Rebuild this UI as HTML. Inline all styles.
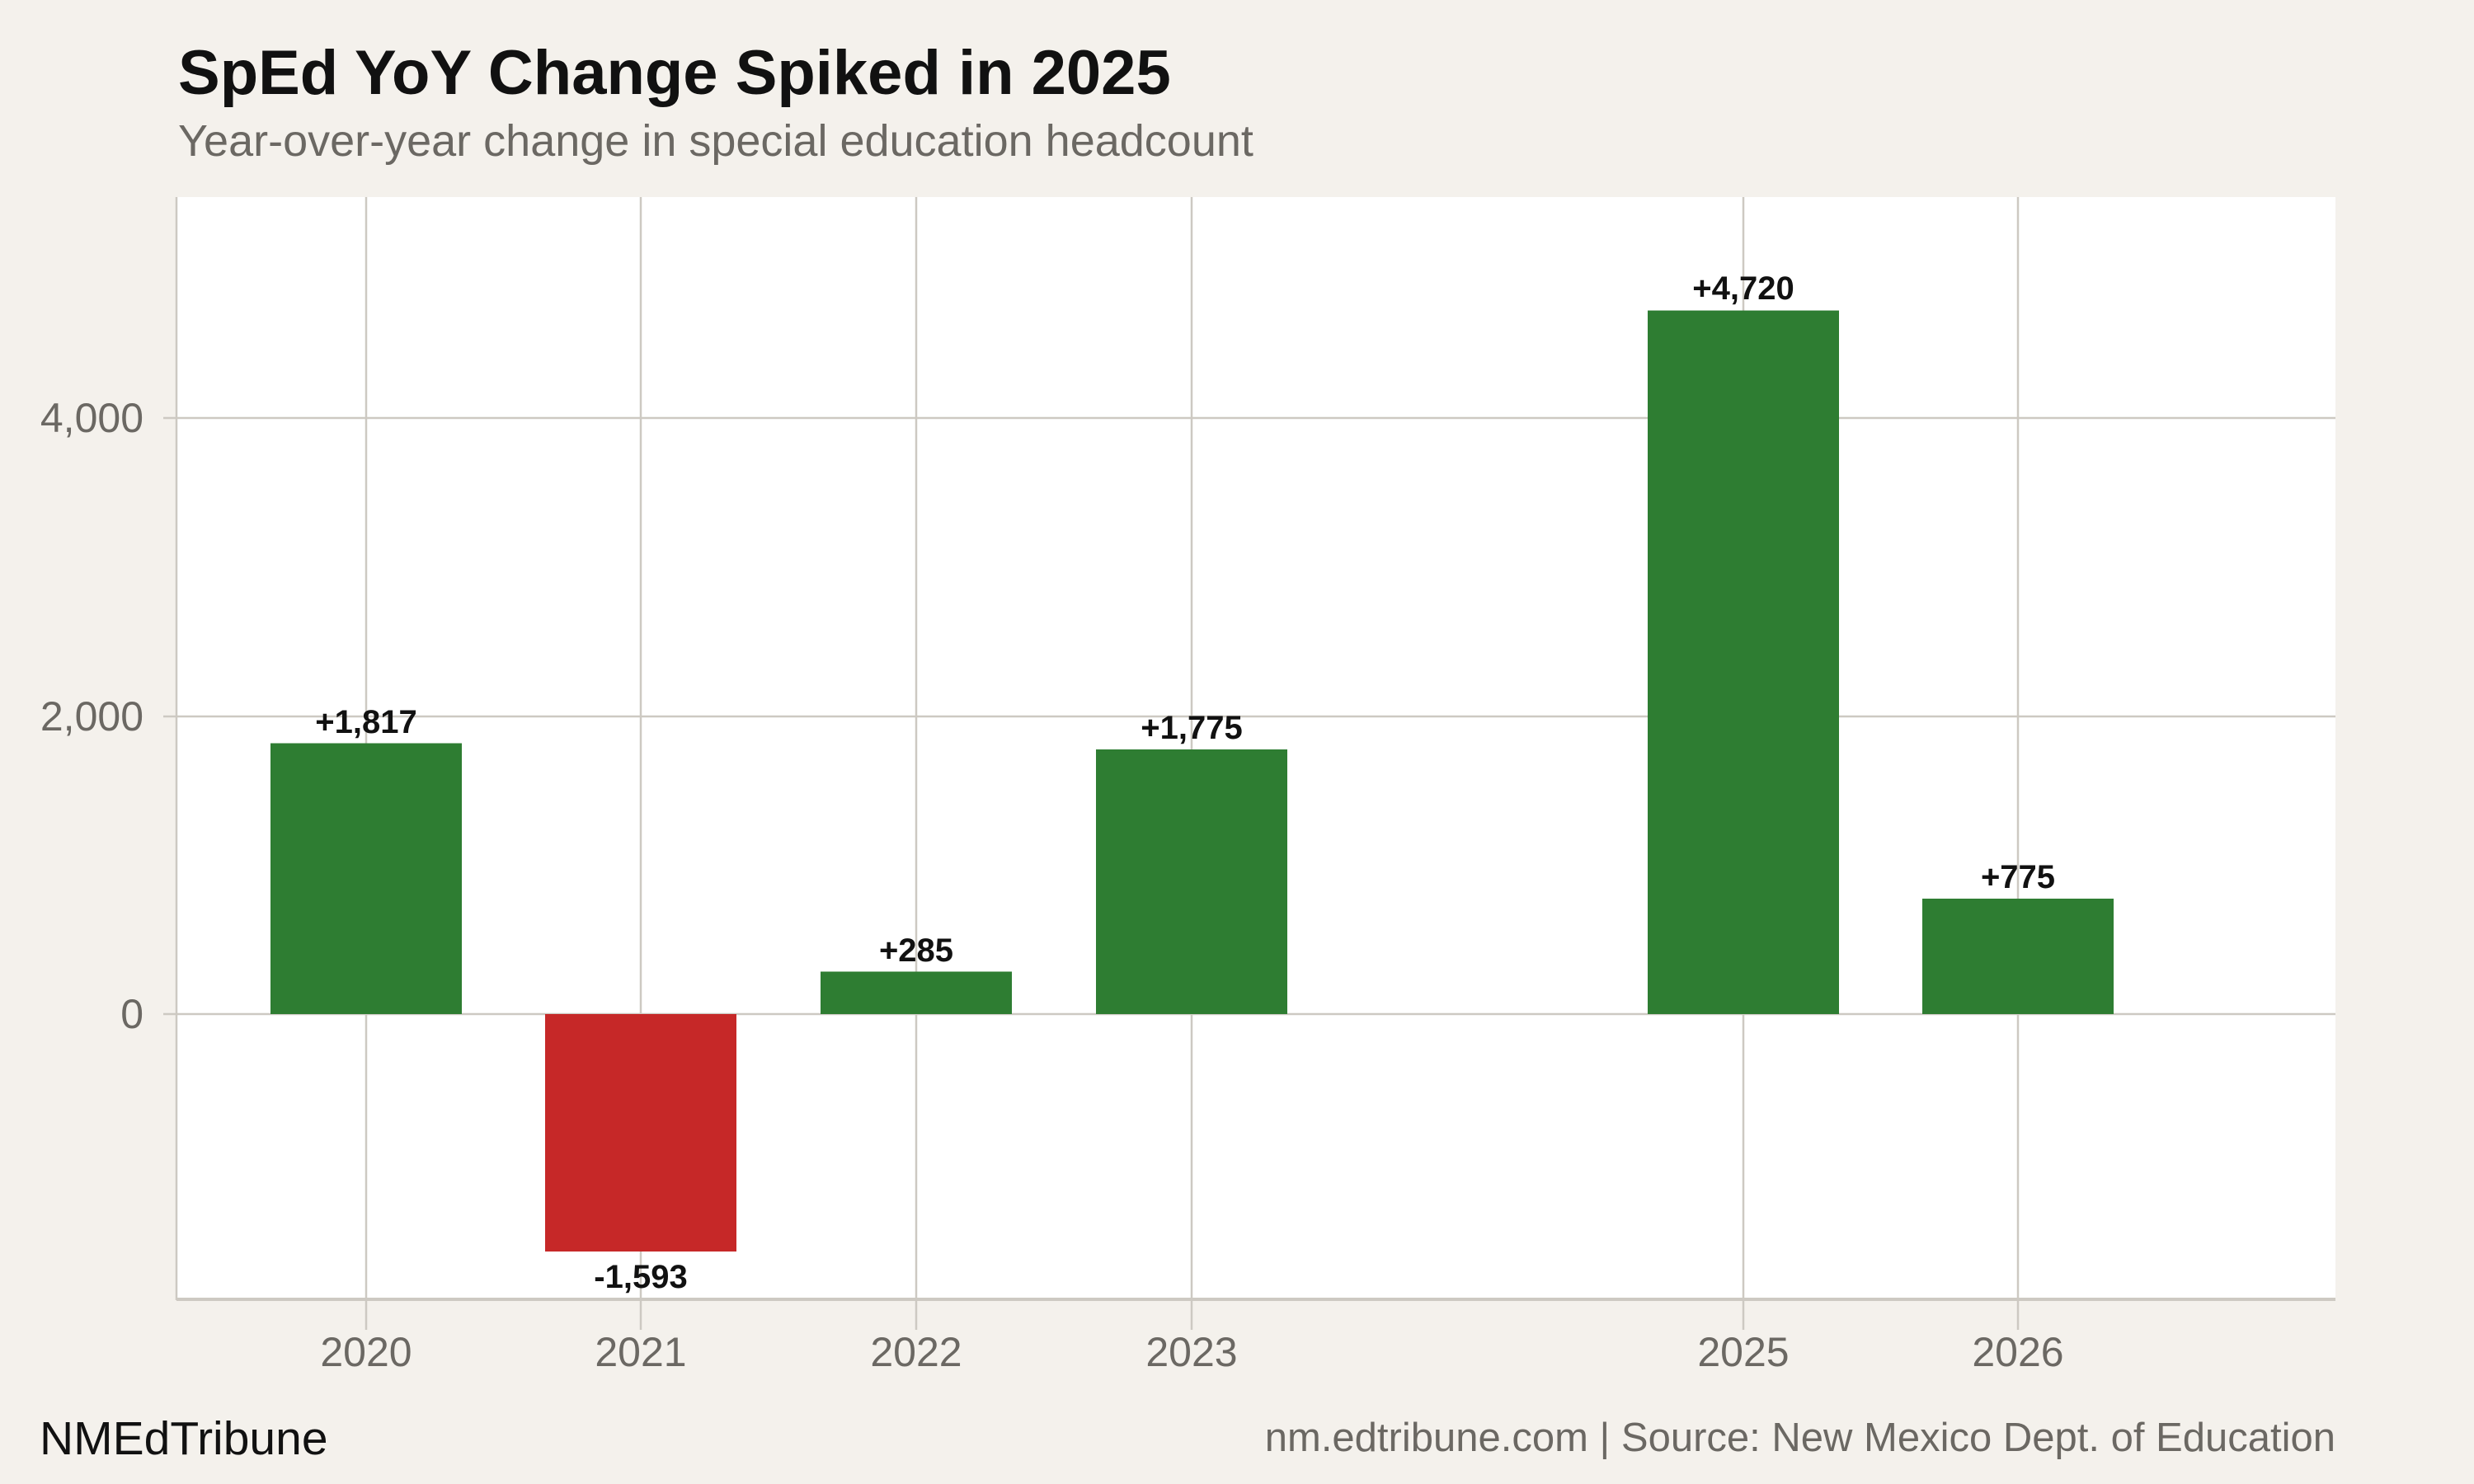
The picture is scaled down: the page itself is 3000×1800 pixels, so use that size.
<!DOCTYPE html>
<html><head><meta charset="utf-8"><style>
html,body{margin:0;padding:0;background:#f4f1ec;}
svg{display:block;font-family:"Liberation Sans",sans-serif;}
</style></head><body>
<svg width="3000" height="1800" viewBox="0 0 3000 1800">
<rect width="3000" height="1800" fill="#f4f1ec"/>
<text x="216" y="114" font-size="76" font-weight="bold" fill="#111">SpEd YoY Change Spiked in 2025</text>
<text x="216" y="189" font-size="54" fill="#6b6863">Year-over-year change in special education headcount</text>
<rect x="214" y="239" width="2618" height="1336" fill="#fff"/>
<g stroke="#cdc9c2" stroke-width="2.5">
<line x1="444" y1="239" x2="444" y2="1613"/>
<line x1="777" y1="239" x2="777" y2="1613"/>
<line x1="1111" y1="239" x2="1111" y2="1613"/>
<line x1="1445" y1="239" x2="1445" y2="1613"/>
<line x1="2114" y1="239" x2="2114" y2="1613"/>
<line x1="2447" y1="239" x2="2447" y2="1613"/>
<line x1="198" y1="507" x2="2832" y2="507"/>
<line x1="198" y1="869" x2="2832" y2="869"/>
<line x1="198" y1="1230" x2="2832" y2="1230"/>
<line x1="214" y1="239" x2="214" y2="1577"/>
</g>
<line x1="214" y1="1576" x2="2832" y2="1576" stroke="#cdc9c2" stroke-width="4"/>
<g fill="#2e7d32">
<rect x="328" y="901.5" width="232" height="328.5"/>
<rect x="995" y="1178.5" width="232" height="51.5"/>
<rect x="1329" y="909" width="232" height="321"/>
<rect x="1998" y="376.6" width="232" height="853.4"/>
<rect x="2331" y="1090" width="232" height="140"/>
</g>
<rect x="661" y="1230" width="232" height="288" fill="#c62828"/>
<g font-size="40" font-weight="bold" fill="#111" text-anchor="middle">
<text x="444" y="889">+1,817</text>
<text x="777" y="1562">-1,593</text>
<text x="1111" y="1166">+285</text>
<text x="1445" y="896">+1,775</text>
<text x="2114" y="363">+4,720</text>
<text x="2447" y="1077">+775</text>
</g>
<g font-size="50" fill="#6b6863" text-anchor="end">
<text x="174" y="524">4,000</text>
<text x="174" y="886">2,000</text>
<text x="174" y="1247">0</text>
</g>
<g font-size="50" fill="#6b6863" text-anchor="middle">
<text x="444" y="1657">2020</text>
<text x="777" y="1657">2021</text>
<text x="1111" y="1657">2022</text>
<text x="1445" y="1657">2023</text>
<text x="2114" y="1657">2025</text>
<text x="2447" y="1657">2026</text>
</g>
<text x="48" y="1764" font-size="57" fill="#111">NMEdTribune</text>
<text x="2832" y="1760" font-size="49" fill="#6b6863" text-anchor="end">nm.edtribune.com | Source: New Mexico Dept. of Education</text>
</svg>
</body></html>
